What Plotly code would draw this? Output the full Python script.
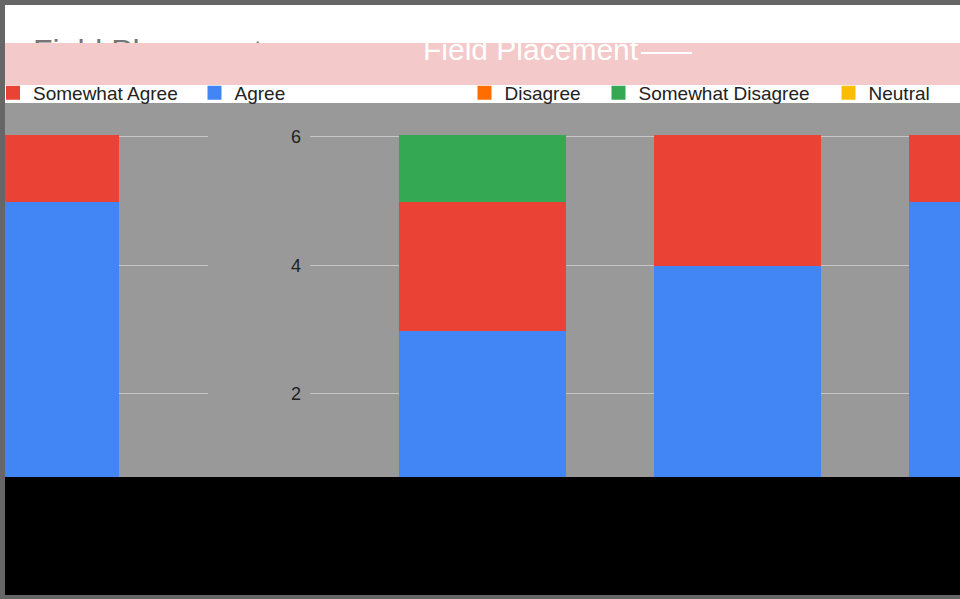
import plotly.graph_objects as go

# ---- data ----
categories = ["Placement 1", "Placement 2", "Placement 3", "Placement 4"]
agree = [5, 3, 4, 5]
somewhat_agree = [1, 2, 2, 1]
somewhat_disagree = [0, 1, 0, 0]
disagree = [0, 0, 0, 0]
neutral = [0, 0, 0, 0]
y_ticks = [2, 4, 6]
title_text = "Field Placement"

W, H = 960, 599


def px_x(p):
    return p / W


def px_y(p):
    return 1 - p / H


series = [
    ("Agree", agree, "#4285F4", "legend2"),
    ("Somewhat Agree", somewhat_agree, "#EA4335", "legend"),
    ("Somewhat Disagree", somewhat_disagree, "#34A853", "legend4"),
    ("Disagree", disagree, "#FF6D01", "legend3"),
    ("Neutral", neutral, "#FBBC04", "legend5"),
]

fig = go.Figure()
for name, vals, color, leg in series:
    shown = [v if v else None for v in vals]
    fig.add_trace(go.Bar(
        x=categories[:1], y=shown[:1], name=name, xaxis="x", yaxis="y",
        marker=dict(color=color, line=dict(color=color, width=2)),
        showlegend=False, legendgroup=name, hoverinfo="skip"))
    fig.add_trace(go.Bar(
        x=categories[1:], y=shown[1:], name=name, xaxis="x2", yaxis="y2",
        marker=dict(color=color, line=dict(color=color, width=2)),
        legend=leg, legendgroup=name))

font = "Arial, Liberation Sans, sans-serif"

# partially hidden grey title (clipped by its own small subplot)
fig.add_trace(go.Scatter(
    x=[(33 - 5) / (W - 5)], y=[-10.5], mode="text", text=[title_text],
    textposition="middle right",
    textfont=dict(size=32, color="#757575", family=font),
    xaxis="x3", yaxis="y3", showlegend=False, hoverinfo="skip", cliponaxis=True))

y_range = [0.71, 6.52]
y_dom = [px_y(477), px_y(103)]

legend_pos = {"legend": 13, "legend2": 214.5, "legend3": 484.5,
              "legend4": 618.5, "legend5": 848.5}
legends = {}
for key, cx in legend_pos.items():
    legends[key] = dict(
        x=(cx - 20) / W, xanchor="left", y=px_y(93), yanchor="middle",
        bgcolor="rgba(0,0,0,0)", borderwidth=0,
        font=dict(size=19, color="#222222", family=font))

shapes = [
    # white page inside grey frame
    dict(type="rect", xref="paper", yref="paper", x0=px_x(5), x1=1,
         y0=px_y(595), y1=px_y(5), fillcolor="white", line_width=0, layer="below"),
    # grey plot area
    dict(type="rect", xref="paper", yref="paper", x0=px_x(5), x1=1,
         y0=px_y(477), y1=px_y(103), fillcolor="#999999", line_width=0, layer="below"),
    # pink band
    dict(type="rect", xref="paper", yref="paper", x0=px_x(5), x1=1,
         y0=px_y(85), y1=px_y(43), fillcolor="#f4c9c9", line_width=0, layer="above"),
    dict(type="line", xref="paper", yref="paper", x0=px_x(641), x1=px_x(692),
         y0=px_y(53), y1=px_y(53), line=dict(color="white", width=2), layer="above"),
    # black bottom block
    dict(type="rect", xref="paper", yref="paper", x0=px_x(5), x1=1,
         y0=px_y(595), y1=px_y(477), fillcolor="black", line_width=0, layer="above"),
]

fig.update_layout(
    width=W, height=H, autosize=False,
    margin=dict(l=0, r=0, t=0, b=0, autoexpand=False),
    paper_bgcolor="#666666", plot_bgcolor="rgba(0,0,0,0)",
    barmode="stack", bargap=90 / 255,
    font=dict(family=font),
    xaxis=dict(domain=[px_x(5), px_x(208)], range=[-0.1196, 0.676],
               showticklabels=False, showgrid=False, zeroline=False),
    yaxis=dict(domain=y_dom, range=y_range, tickvals=y_ticks, showticklabels=False,
               gridcolor="#c6c6c6", gridwidth=1, zeroline=False),
    xaxis2=dict(domain=[px_x(310), 1], range=[-0.676, 1.873], anchor="y2",
                showticklabels=False, showgrid=False, zeroline=False),
    yaxis2=dict(domain=y_dom, range=y_range, anchor="x2", tickvals=y_ticks,
                gridcolor="#c6c6c6", gridwidth=1, zeroline=False,
                ticklabelstandoff=8,
                tickfont=dict(size=18, color="#222222", family=font)),
    xaxis3=dict(domain=[px_x(5), 1], range=[0, 1], anchor="y3", visible=False),
    yaxis3=dict(domain=[px_y(43), px_y(28)], range=[0, 15], anchor="x3", visible=False),
    shapes=shapes,
    annotations=[dict(text=title_text, xref="paper", yref="paper",
                      x=px_x(421), y=px_y(49), xanchor="left", yanchor="middle",
                      showarrow=False,
                      font=dict(size=30, color="white", family=font))],
    **legends,
)

fig.write_html("out.html", config={"displayModeBar": False},
               post_script="document.body.style.margin='0';")
